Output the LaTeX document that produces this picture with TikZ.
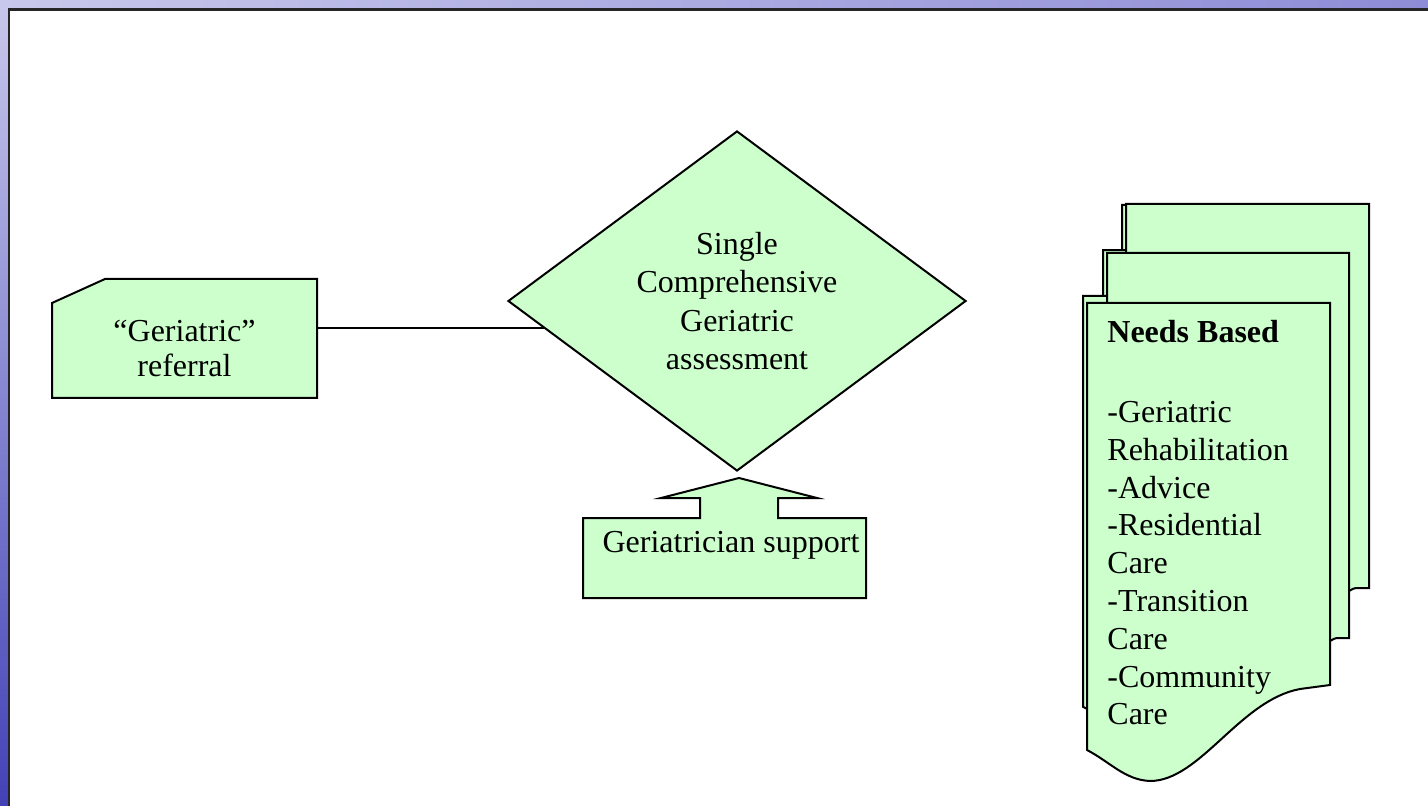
\documentclass[tikz,border=0pt]{standalone}
\usepackage{fontspec}
\setmainfont{Liberation Serif}
\usepackage{xcolor}
\usepackage{tikz}
\usetikzlibrary{shapes.geometric}

\definecolor{paleGreen}{RGB}{204,255,204}
\definecolor{slideLight}{RGB}{200,200,236}
\definecolor{slideMid}{RGB}{142,140,214}
\definecolor{slideDark}{RGB}{66,66,182}

% three stacked pages, back to front
\newcommand{\stackpages}{%
  \draw[shapefill] (1126,204) -- (1369,204) -- (1369,588) -- (1358,588)
    .. controls (1354,588) and (1352,589) .. (1349,591) -- (1126,591) -- cycle;
  \draw[shapefill] (1107,253) -- (1349,253) -- (1349,638) -- (1339,638)
    .. controls (1335,638) and (1333,639) .. (1330,641) -- (1107,641) -- cycle;
  \draw[shapefill] (1087,303) -- (1330,303) -- (1330,685) -- (1300,689)
    .. controls (1240,700) and (1200,781) .. (1150,781)
    .. controls (1125,780) and (1110,762) .. (1087,750) -- cycle;
}

\begin{document}
\begin{tikzpicture}[x=0.5pt, y=-0.5pt,
  shapefill/.style={fill=paleGreen, draw=black, line width=1pt},
  boxtext/.style={font=\fontsize{16pt}{19.2pt}\selectfont, inner sep=0pt, align=center}]
\useasboundingbox (0,0) rectangle (1428,806);

% Slide frame
\shade[top color=slideLight, bottom color=slideDark] (0,0) rectangle (10,806);
\shade[left color=slideLight, right color=slideMid] (0,0) rectangle (1428,10);
\fill[white] (9,9.5) rectangle (1428,806);
\draw[line width=1.2pt, black!85] (9,806) -- (9,9.5) -- (1428,9.5);

% Referral
\draw[shapefill] (52,398) -- (52,303) -- (105,279) -- (317,279) -- (317,398) -- cycle;
\node[boxtext, font=\fontsize{16pt}{17.5pt}\selectfont, minimum width=132.5pt] (referral) at (184.5,349) {“Geriatric”\\referral};

% Assessment
\node[shapefill, diamond, aspect=1.35, minimum width=229pt, minimum height=170pt, boxtext] (assess) at (737,301)
  {Single\\Comprehensive\\Geriatric\\assessment};
\draw[line width=0.8pt] (referral.east |- assess.188) -- (assess.188);

% Geriatrician support
\draw[shapefill] (583,518) -- (700,518) -- (700,498) -- (661,498) -- (739,478) -- (817,498)
  -- (778,498) -- (778,518) -- (866,518) -- (866,598) -- (583,598) -- cycle;
\node[boxtext] (support) at (731,545) {Geriatrician support};

% Needs based pages
\begin{scope}[shift={(-4,205)}, yscale=0.919, shift={(0,-204)}]
\stackpages
\end{scope}
\stackpages
\node[boxtext, font=\fontsize{16pt}{18.9pt}\selectfont, align=left, anchor=north west] (needs) at (1107,320)
  {\textbf{Needs Based}\\[21pt]-Geriatric\\Rehabilitation\\-Advice\\-Residential\\Care\\-Transition\\Care\\-Community\\Care};
\end{tikzpicture}
\end{document}
